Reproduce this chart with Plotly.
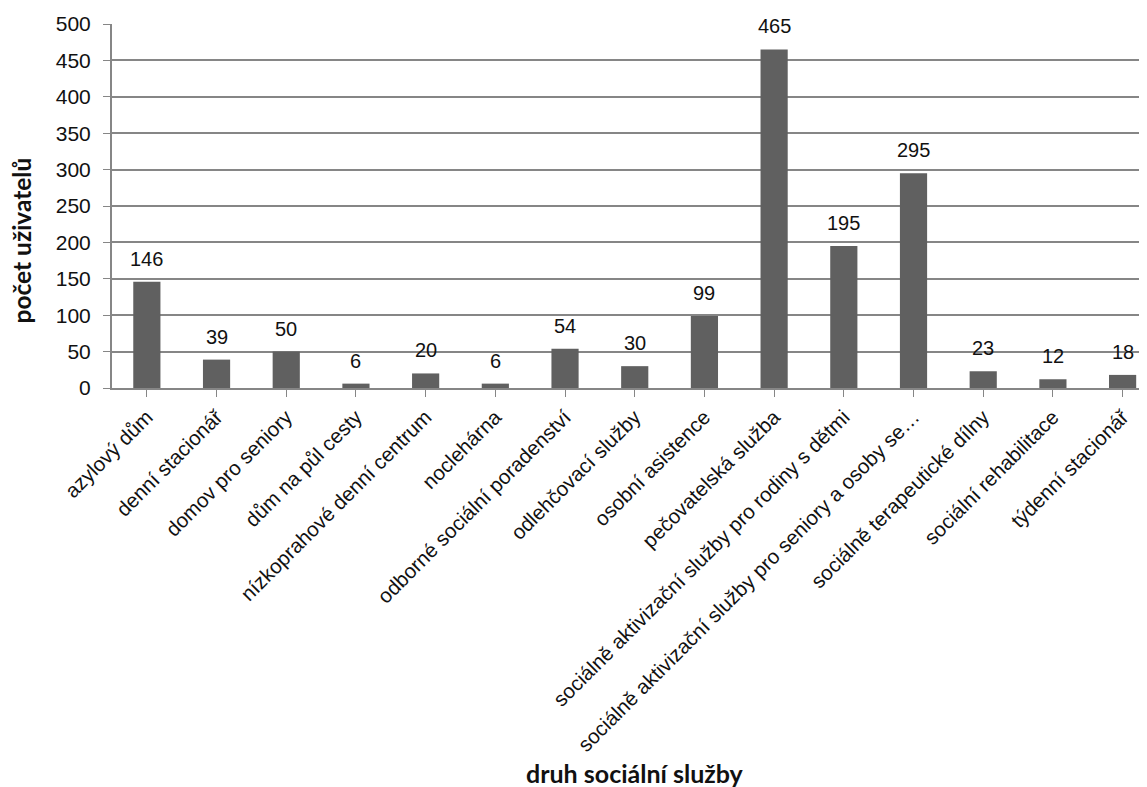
import plotly.graph_objects as go

categories = [
    "azylový dům", "denní stacionář", "domov pro seniory", "dům na půl cesty",
    "nízkoprahové denní centrum", "noclehárna", "odborné sociální poradenství",
    "odlehčovací služby", "osobní asistence", "pečovatelská služba",
    "sociálně aktivizační služby pro rodiny s dětmi",
    "sociálně aktivizační služby pro seniory a osoby se…",
    "sociálně terapeutické dílny", "sociální rehabilitace", "týdenní stacionář",
]
values = [146, 39, 50, 6, 20, 6, 54, 30, 99, 465, 195, 295, 23, 12, 18]
y_ticks = list(range(0, 501, 50))

FONT = "Liberation Sans, Arial, sans-serif"

fig = go.Figure()
fig.add_trace(go.Bar(
    x=list(range(len(categories))), y=values,
    marker=dict(color="#606060", line=dict(width=0)),
    width=0.39,
))
for i, v in enumerate(values):
    fig.add_annotation(x=i, y=v, text=str(v), showarrow=False, yanchor="bottom",
                       yshift=10, font=dict(family=FONT, size=20, color="#111111"))

fig.update_layout(
    width=1139, height=779,
    margin=dict(l=104, r=0, t=16, b=399),
    plot_bgcolor="white", paper_bgcolor="white",
    showlegend=False,
    font=dict(family=FONT, size=20, color="#111111"),
)
fig.update_xaxes(
    tickmode="array", tickvals=list(range(len(categories))), ticktext=categories,
    range=[-0.5, 14.35], tickangle=-45, ticks="outside", ticklen=7, tickcolor="#868686",
    tickson="boundaries", showline=True, linecolor="#868686", linewidth=2,
    showgrid=False, tickfont=dict(family=FONT, size=20.5, color="#111111"),
)
fig.update_yaxes(
    range=[0, 500], tickvals=y_ticks, ticks="outside", ticklen=7, tickcolor="#868686",
    showline=True, linecolor="#868686", linewidth=2, showgrid=True,
    gridcolor="#868686", gridwidth=1.5, zeroline=False, ticklabelstandoff=8,
    tickfont=dict(family=FONT, size=21, color="#111111"),
)
fig.add_annotation(xref="paper", yref="paper", x=-0.087, y=0.405, text="<b>počet uživatelů</b>",
                   textangle=-90, showarrow=False, xanchor="center", yanchor="middle",
                   font=dict(family="Lato, Carlito, sans-serif", size=24.5, color="#111111"))
fig.add_annotation(xref="paper", yref="paper", x=0.505, y=-1.058, text="<b>druh sociální služby</b>",
                   showarrow=False, xanchor="center", yanchor="middle",
                   font=dict(family="Lato, Carlito, sans-serif", size=25, color="#111111"))
fig.write_html("out.html")
